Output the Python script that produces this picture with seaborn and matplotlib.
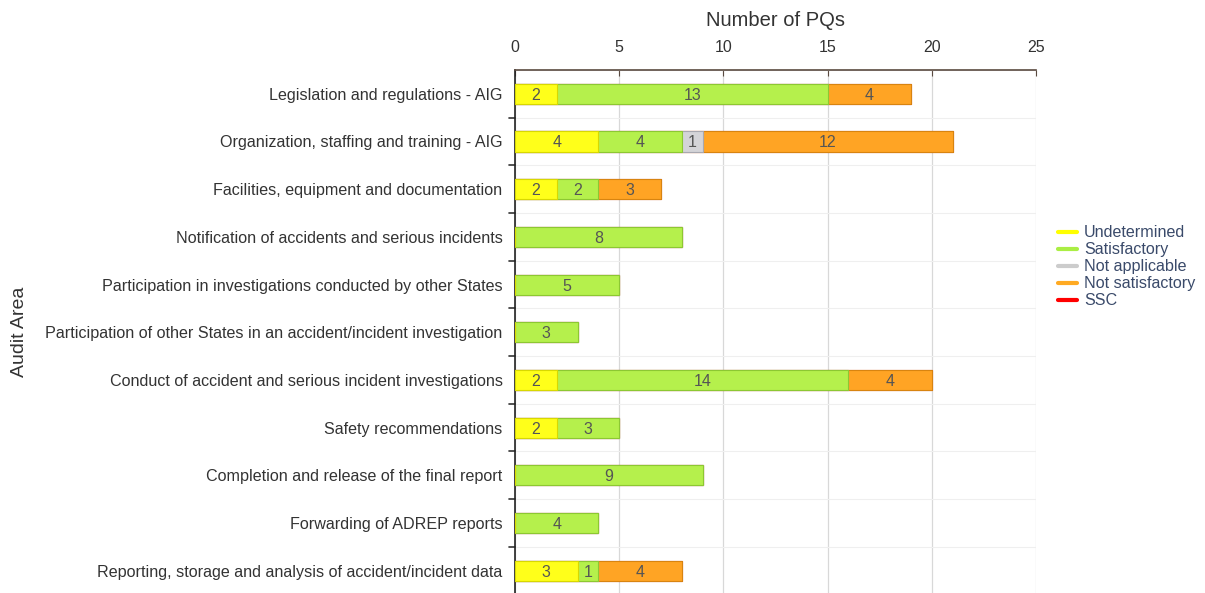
import numpy as np
import pandas as pd
import seaborn as sns
import matplotlib.pyplot as plt
from matplotlib.lines import Line2D

areas = ['Legislation and regulations - AIG',
         'Organization, staffing and training - AIG',
         'Facilities, equipment and documentation',
         'Notification of accidents and serious incidents',
         'Participation in investigations conducted by other States',
         'Participation of other States in an accident/incident investigation',
         'Conduct of accident and serious incident investigations',
         'Safety recommendations',
         'Completion and release of the final report',
         'Forwarding of ADREP reports',
         'Reporting, storage and analysis of accident/incident data']

undetermined = [2, 4, 2, 0, 0, 0, 2, 2, 0, 0, 3]
satisfactory = [13, 4, 2, 8, 5, 3, 14, 3, 9, 4, 1]
not_applicable = [0, 1, 0, 0, 0, 0, 0, 0, 0, 0, 0]
not_satisfactory = [4, 12, 3, 0, 0, 0, 4, 0, 0, 0, 4]
ssc = [0, 0, 0, 0, 0, 0, 0, 0, 0, 0, 0]

series = ['Undetermined', 'Satisfactory', 'Not applicable', 'Not satisfactory', 'SSC']
colors = ['#ffff1a', '#b5f04c', '#d4d4d8', '#ffa424', '#ff0000']
edges = ['#d8d800', '#8cc832', '#a8a8b0', '#d88410', '#c00000']
legend_colors = ['#ffff00', '#aaee44', '#cccccc', '#ffaa22', '#ff0000']

df = pd.DataFrame({'area': areas, 'Undetermined': undetermined,
                   'Satisfactory': satisfactory, 'Not applicable': not_applicable,
                   'Not satisfactory': not_satisfactory, 'SSC': ssc})
cum = df[series].cumsum(axis=1)

sns.set_style('white')
plt.rcParams['font.family'] = ['Liberation Sans', 'DejaVu Sans']

fig = plt.figure(figsize=(12.05, 5.93), dpi=100)
ax = fig.add_axes([0.4274, 0.0, 0.4324, 0.882])

# stacked bars: draw cumulative totals from the back to the front
for s, c, e in reversed(list(zip(series, colors, edges))):
    tmp = pd.DataFrame({'area': areas, 'val': cum[s]})
    sns.barplot(data=tmp, x='val', y='area', color=c, edgecolor=e,
                linewidth=0.8, width=0.42, saturation=1, ax=ax, zorder=3)

# segment labels
for i in range(len(areas)):
    start = 0
    for s in series:
        v = df[s][i]
        if v > 0:
            ax.text(start + v / 2, i, str(v), ha='center', va='center_baseline',
                    fontsize=11.5, color='#555555', zorder=5)
        start += v

ax.set_xlim(0, 25)
ax.set_ylim(10.47, -0.5)
ax.xaxis.tick_top()
ax.xaxis.set_label_position('top')
ax.set_xticks([0, 5, 10, 15, 20, 25])
ax.set_xlabel('Number of PQs', fontsize=14.5, color='#333333', labelpad=10)
ax.set_ylabel('Audit Area', fontsize=14, color='#333333')
ax.yaxis.set_label_coords(-0.935, 0.5)

ax.set_yticks(np.arange(-0.5, 10.5, 0.5), minor=True)
ax.grid(axis='x', color='#d8d8d8', linewidth=0.9, zorder=0)
ax.grid(axis='y', which='minor', color='#efefef', linewidth=0.8, zorder=0)
ax.set_axisbelow(True)

ax.tick_params(axis='x', direction='in', length=4, color='#5a4a40',
               labelsize=11.5, labelcolor='#333333', pad=11)
ax.tick_params(axis='y', which='major', length=3, color='#777777',
               labelsize=11.6, labelcolor='#333333', pad=6)
ax.tick_params(axis='y', which='minor', length=0)
for yb in np.arange(0.5, 10.5, 1.0):
    ax.plot([-0.012, 0.0], [yb, yb], transform=ax.get_yaxis_transform(),
            color='#333333', linewidth=1.2, clip_on=False)

for side in ['right', 'bottom']:
    ax.spines[side].set_visible(False)
ax.spines['top'].set_color('#5a4a40')
ax.spines['top'].set_linewidth(1.2)
ax.spines['left'].set_color('#222222')
ax.spines['left'].set_linewidth(1.2)

handles = [Line2D([0], [0], color=c, linewidth=3) for c in legend_colors]
leg = fig.legend(handles, series, loc='center left', bbox_to_anchor=(0.866, 0.55),
                 frameon=False, fontsize=11.6, handlelength=1.2, handletextpad=0.4,
                 labelspacing=0.12)
for t in leg.get_texts():
    t.set_color('#3a4a6a')

plt.savefig('out.png', dpi=100)
